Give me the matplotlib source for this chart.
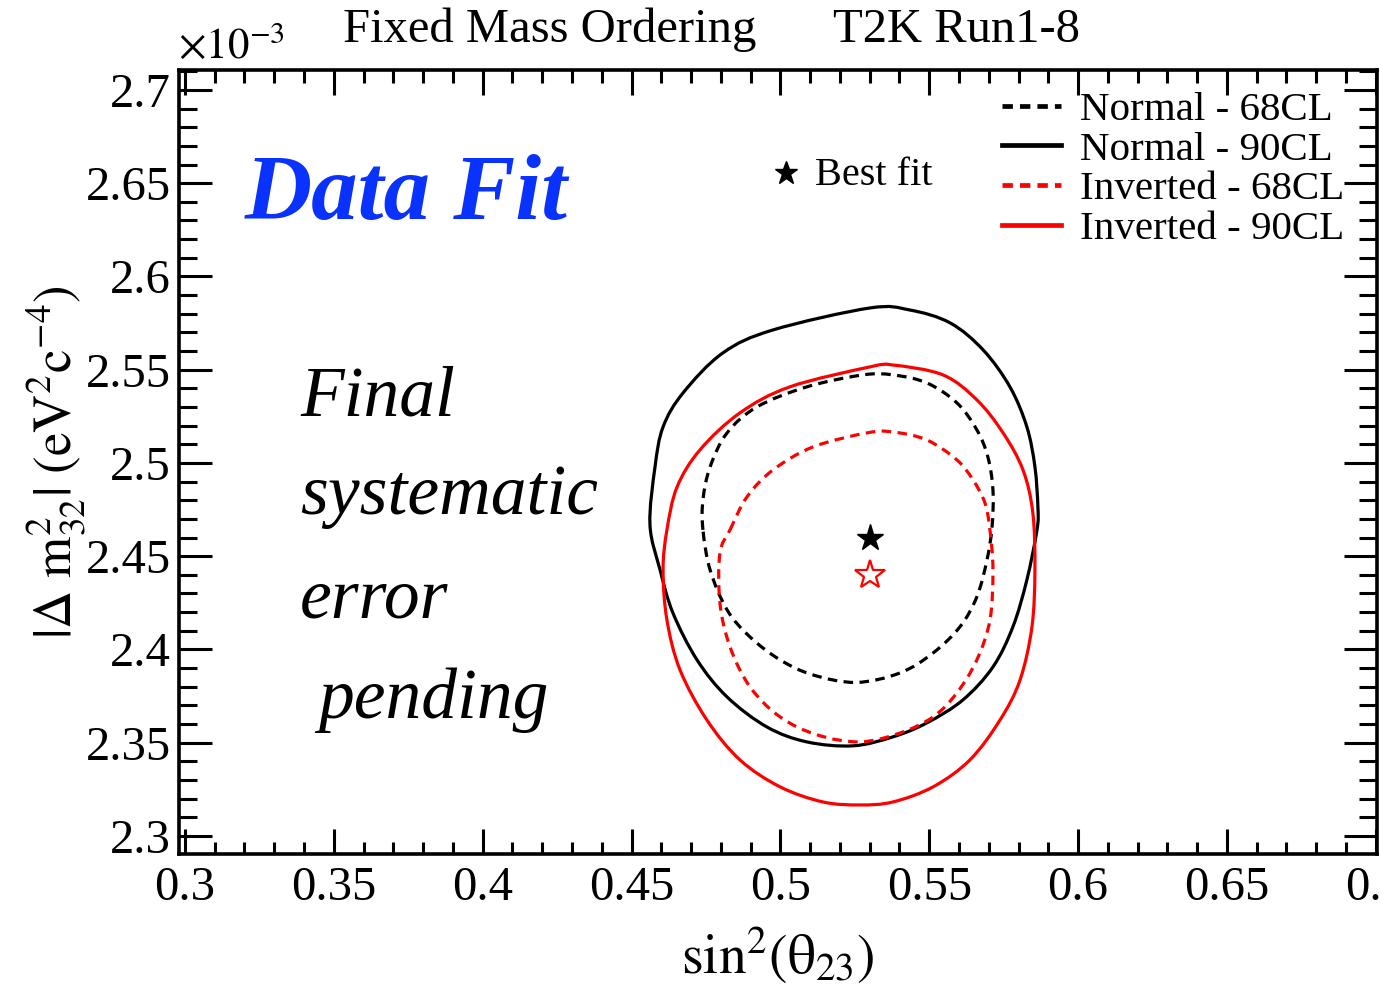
import numpy as np
import matplotlib
matplotlib.use("Agg")
import matplotlib.pyplot as plt
from matplotlib.ticker import MultipleLocator, FuncFormatter
from matplotlib.lines import Line2D
from matplotlib.path import Path
from matplotlib.patches import PathPatch

plt.rcParams['font.family'] = ['Liberation Serif', 'DejaVu Serif']
plt.rcParams['mathtext.fontset'] = 'stix'

# contour points: sin^2(theta23), |dm2_32| in 1e-3 eV^2
norm90_x = [0.4562, 0.4579, 0.4606, 0.4673, 0.4807, 0.4975, 0.5301, 0.5435, 0.5570, 0.5681,
            0.5771, 0.5828, 0.5855, 0.5865, 0.5862, 0.5828, 0.5781, 0.5714, 0.5613, 0.5492,
            0.5378, 0.5244, 0.5089, 0.4955, 0.4821, 0.4720, 0.4639, 0.4596, 0.4562]
norm90_y = [2.4668, 2.4979, 2.5193, 2.5375, 2.5590, 2.5713, 2.5831, 2.5820, 2.5751, 2.5606,
            2.5408, 2.5193, 2.4979, 2.4764, 2.4641, 2.4373, 2.4121, 2.3906, 2.3729, 2.3606,
            2.3531, 2.3483, 2.3504, 2.3584, 2.3745, 2.3944, 2.4196, 2.4426, 2.4668]

norm68_x = [0.4740, 0.4740, 0.4764, 0.4821, 0.4921, 0.5089, 0.5277, 0.5378, 0.5492, 0.5593,
            0.5660, 0.5697, 0.5714, 0.5711, 0.5694, 0.5660, 0.5603, 0.5513, 0.5402, 0.5255,
            0.5110, 0.4999, 0.4898, 0.4821, 0.4764, 0.4740]
norm68_y = [2.4641, 2.4802, 2.4979, 2.5161, 2.5300, 2.5408, 2.5472, 2.5472, 2.5429, 2.5322,
            2.5177, 2.5032, 2.4855, 2.4657, 2.4480, 2.4282, 2.4121, 2.3981, 2.3874, 2.3823,
            2.3863, 2.3944, 2.4067, 2.4212, 2.4426, 2.4641]

inv90_x = [0.4619, 0.4653, 0.4730, 0.4864, 0.5032, 0.5301, 0.5378, 0.5546, 0.5660, 0.5748,
           0.5815, 0.5848, 0.5855, 0.5845, 0.5805, 0.5738, 0.5637, 0.5513, 0.5378, 0.5267,
           0.5143, 0.4999, 0.4864, 0.4753, 0.4663, 0.4619, 0.4606, 0.4619]
inv90_y = [2.4641, 2.4871, 2.5070, 2.5268, 2.5408, 2.5515, 2.5525, 2.5472, 2.5338, 2.5161,
           2.4962, 2.4732, 2.4426, 2.4121, 2.3836, 2.3622, 2.3408, 2.3263, 2.3182, 2.3166,
           2.3182, 2.3263, 2.3408, 2.3622, 2.3890, 2.4158, 2.4426, 2.4641]

inv68_x = [0.4831, 0.4888, 0.4975, 0.5110, 0.5291, 0.5378, 0.5492, 0.5593, 0.5647, 0.5687,
           0.5704, 0.5714, 0.5704, 0.5660, 0.5593, 0.5513, 0.5402, 0.5267, 0.5123, 0.4999,
           0.4898, 0.4831, 0.4797, 0.4797, 0.4831]
inv68_y = [2.4641, 2.4818, 2.4962, 2.5086, 2.5161, 2.5166, 2.5123, 2.5016, 2.4909, 2.4786,
           2.4641, 2.4426, 2.4158, 2.3944, 2.3767, 2.3638, 2.3552, 2.3504, 2.3542, 2.3638,
           2.3799, 2.4013, 2.4249, 2.4517, 2.4641]

best_norm = (0.53, 2.46)
best_inv = (0.53, 2.44)

labels = ["Normal - 68CL", "Normal - 90CL", "Inverted - 68CL", "Inverted - 90CL"]


def smooth_closed(xs, ys):
    # closed Catmull-Rom curve through the points, as cubic Bezier segments
    p = np.column_stack([xs, ys])[:-1]
    n = len(p)
    verts = [p[0]]
    codes = [Path.MOVETO]
    for i in range(n):
        p0, p1, p2, p3 = p[i - 1], p[i], p[(i + 1) % n], p[(i + 2) % n]
        verts += [p1 + (p2 - p0) / 6, p2 - (p3 - p1) / 6, p2]
        codes += [Path.CURVE4] * 3
    return Path(verts, codes)


fig = plt.figure(figsize=(13.81, 9.93), dpi=100)
ax = fig.add_axes([0.1296, 0.1400, 0.8675, 0.7895])

lw = 2.3
for xs, ys, col, ls in [(norm90_x, norm90_y, 'black', '-'),
                        (inv90_x, inv90_y, 'red', '-'),
                        (norm68_x, norm68_y, 'black', (0, (3.0, 2.0))),
                        (inv68_x, inv68_y, 'red', (0, (3.0, 2.0)))]:
    ax.add_patch(PathPatch(smooth_closed(xs, ys), fill=False, edgecolor=col, lw=lw, linestyle=ls))

ax.plot([best_norm[0]], [best_norm[1]], marker='*', ms=20, color='black', ls='none')
ax.plot([best_inv[0]], [best_inv[1]], marker='*', ms=22, mfc='none', mec='red', mew=1.6, ls='none')

ax.set_xlim(0.298, 0.7004)
ax.set_ylim(2.2903, 2.7107)

ax.xaxis.set_major_locator(MultipleLocator(0.05))
ax.xaxis.set_minor_locator(MultipleLocator(0.01))
ax.yaxis.set_major_locator(MultipleLocator(0.05))
ax.yaxis.set_minor_locator(MultipleLocator(0.01))
fmt = FuncFormatter(lambda v, p: "%g" % round(v, 3))
ax.xaxis.set_major_formatter(fmt)
ax.yaxis.set_major_formatter(fmt)

ax.tick_params(which='both', direction='in', top=True, right=True, width=2.2, labelsize=35)
ax.tick_params(axis='x', which='major', length=18, pad=9)
ax.tick_params(axis='x', which='minor', length=9)
ax.tick_params(axis='y', which='major', length=24, pad=6)
ax.tick_params(axis='y', which='minor', length=13)
for s in ax.spines.values():
    s.set_linewidth(2.6)

# legend
handles = [
    Line2D([], [], color='black', lw=3.4, dashes=(2.2, 1.5)),
    Line2D([], [], color='black', lw=3.4),
    Line2D([], [], color='red', lw=3.4, dashes=(2.2, 1.5)),
    Line2D([], [], color='red', lw=3.4),
]
ax.legend(handles, labels, loc='upper left', bbox_to_anchor=(0.687, 0.973), frameon=False,
          fontsize=29.5, handlelength=1.45, handletextpad=0.45, labelspacing=0.05,
          borderpad=0, borderaxespad=0)

ax.plot([0.507], [0.8686], marker='*', ms=17, color='black', transform=ax.transAxes, clip_on=False)
ax.text(0.531, 0.866, "Best fit", transform=ax.transAxes, fontsize=29, va='center', ha='left')

fig.text(245 / 1381, 1 - 196 / 993, "Data Fit", color='#0a32ff', fontsize=67,
         fontweight='bold', fontstyle='italic', va='center', ha='left')

for txt, px, py in [("Final", 300, 415), ("systematic", 300, 514),
                    ("error", 300, 617), ("pending", 318, 718)]:
    fig.text(px / 1381, 1 - py / 993, txt, fontsize=51.5, fontstyle='italic',
             va='baseline', ha='left')

fig.text(343 / 1381, 1 - 30 / 993, "Fixed Mass Ordering", fontsize=35, va='center', ha='left')
fig.text(833 / 1381, 1 - 30 / 993, "T2K Run1-8", fontsize=35, va='center', ha='left')
fig.text(178 / 1381, 1 - 47 / 993, r"$\times10^{-3}$", fontsize=31, va='center', ha='left')

fig.text(778 / 1381, 1 - 955 / 993, r"$\mathrm{sin}^{2}(\mathrm{\theta}_{23})$", fontsize=40,
         va='center', ha='center')
fig.text(56 / 1381, 1 - 462 / 993, r"$|\Delta\ \mathrm{m}^{2}_{32}|\ (\mathrm{eV}^{2}\mathrm{c}^{-4})$",
         fontsize=38, va='center', ha='center', rotation=90)

fig.savefig("out.png", dpi=100)
